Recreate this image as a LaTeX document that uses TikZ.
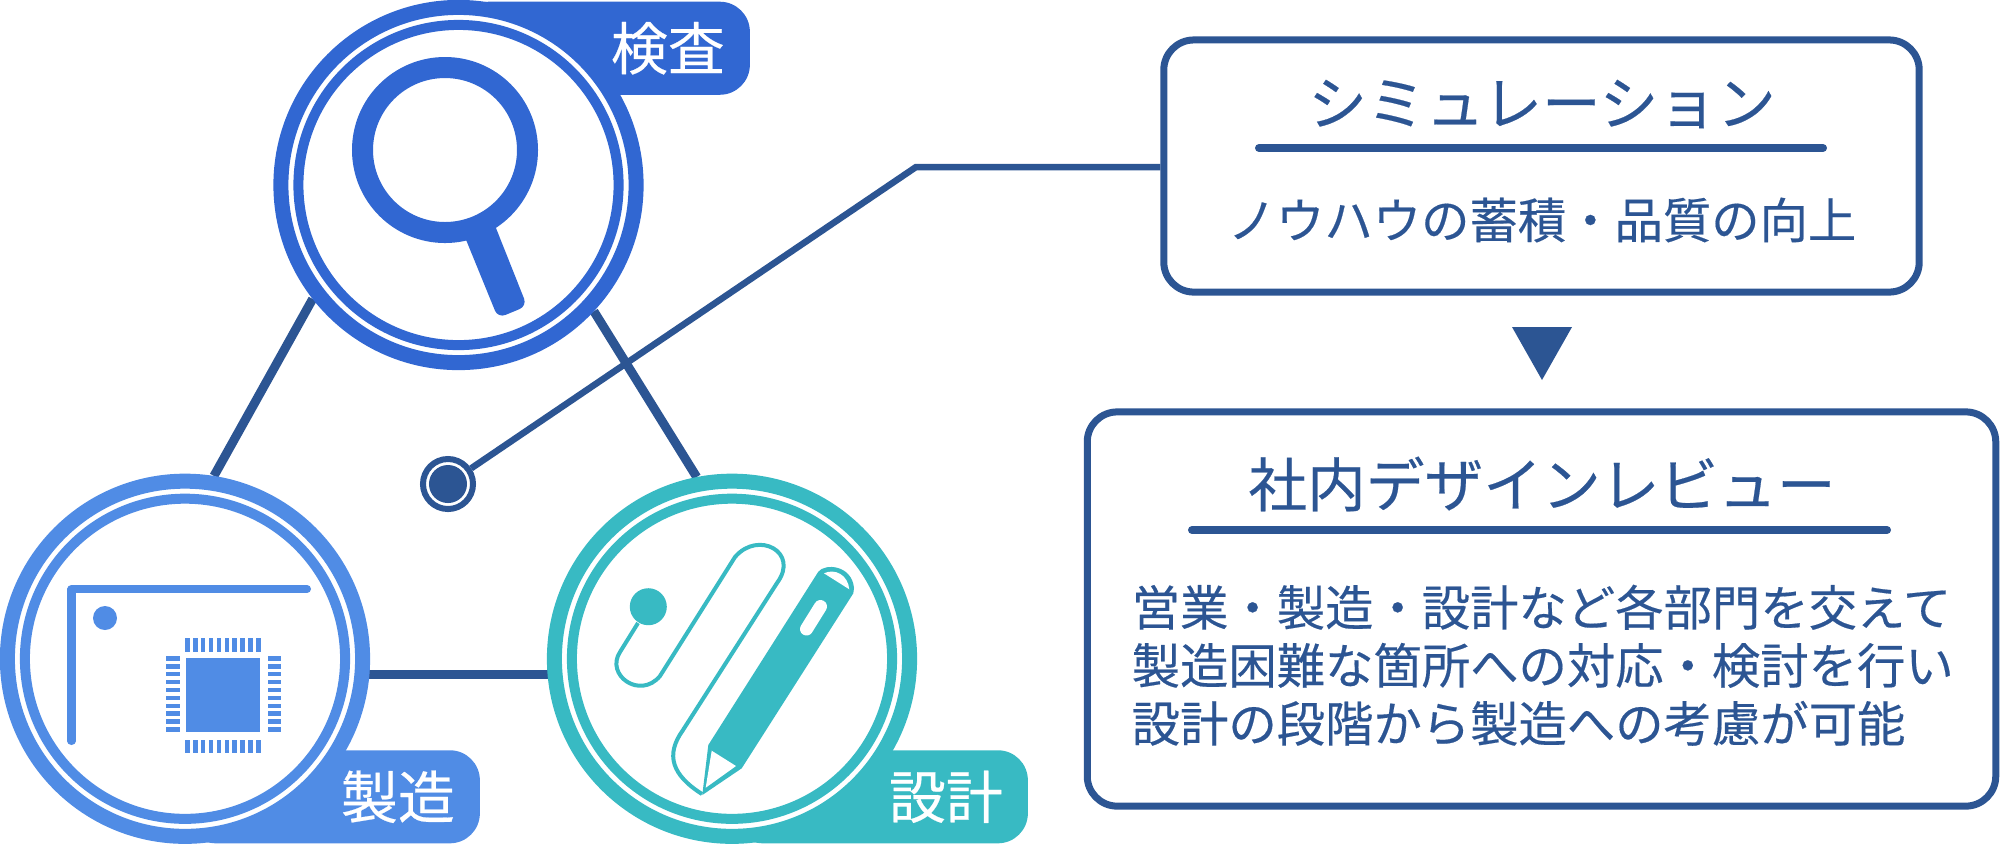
\documentclass[tikz,border=0pt]{standalone}
\usepackage{fontspec}
\setmainfont[FakeBold=0.35]{Noto Sans CJK JP}
\usetikzlibrary{backgrounds}
\definecolor{lineNavy}{RGB}{44, 85, 147}
\definecolor{inspectBlue}{RGB}{49, 103, 210}
\definecolor{fabBlue}{RGB}{80, 140, 229}
\definecolor{designTeal}{RGB}{56, 186, 195}
\tikzset{
  ringOuter/.style={circle, inner sep=0pt, minimum size=3.55cm, draw=#1, line width=0.15cm, fill=white},
  ringInner/.style={circle, inner sep=0pt, minimum size=3.2cm, draw=#1, line width=0.1cm, fill=white},
  tagBox/.style={rectangle, fill=#1, text=white, rounded corners=0.3cm, minimum height=0.93cm, inner xsep=0.25cm, inner ysep=0pt, font=\fontsize{16.2}{18}\selectfont, align=right},
  panelBox/.style={rectangle, draw=lineNavy, line width=0.07cm, rounded corners=0.3cm, inner sep=0pt},
  headText/.style={text=lineNavy, inner sep=0pt, font=\fontsize{16.7}{20}\selectfont},
  bodyText/.style={text=lineNavy, inner sep=0pt, font=\fontsize{13.75}{16.5}\selectfont},
  ruleLine/.style={lineNavy, line width=0.08cm, line cap=round},
  linkLine/.style={lineNavy, line width=0.09cm},
  leadLine/.style={lineNavy, line width=0.065cm, line join=miter}
}

\begin{document}
\begin{tikzpicture}[x=0.01cm, y=-0.01cm]
  \useasboundingbox (0,0) rectangle (2000,844);

  \node[tagBox=inspectBlue, anchor=north west, text width=2.41cm] (inspectTag) at (458,1) {検査};
  \node[tagBox=fabBlue, anchor=south west, text width=2.44cm] (fabTag) at (185,844) {製造};
  \node[tagBox=designTeal, anchor=south west, text width=2.45cm] (designTag) at (732,844) {設計};

  \node[ringOuter=inspectBlue] (inspect) at (458.5,185) {};
  \node[ringInner=inspectBlue] at (inspect) {};
  \node[ringOuter=fabBlue] (fab) at (185,658.75) {};
  \node[ringInner=fabBlue] at (fab) {};
  \node[ringOuter=designTeal] (design) at (732,658.75) {};
  \node[ringInner=designTeal] at (design) {};

  \node[circle, inner sep=0pt, minimum size=0.5cm, draw=lineNavy, line width=0.06cm, fill=white] (probe) at (448,484) {};
  \node[circle, inner sep=0pt, minimum size=0.38cm, fill=lineNavy] at (probe) {};

  \coordinate (elbow) at (916,167);
  \node[panelBox, minimum width=7.55cm, minimum height=2.52cm] (simBox) at (1541.5,166) {};
  \node[panelBox, minimum width=9.08cm, minimum height=3.94cm] (reviewBox) at (1541.5,609) {};

  \begin{scope}[on background layer]
    \draw[linkLine] (inspect.218.4) -- (fab.81);
    \draw[linkLine] (inspect.-43) -- (design.101.5);
    \draw[linkLine] (fab.-5.7) -- (design.185.7);
    \draw[leadLine] (probe) -- (elbow) -- (simBox.west |- elbow);
  \end{scope}

  % magnifier
  \draw[inspectBlue, line width=0.21cm] (445,150) circle (82.5);
  \fill[inspectBlue, rounded corners=0.08cm] (460,225) -- (490,213) -- (527,306) -- (498,318) -- cycle;

  % chip
  \draw[fabBlue, line width=0.08cm, line cap=round, line join=round] (307,589) -- (71.5,589) -- (71.5,741);
  \fill[fabBlue] (105,618) circle (12);
  \fill[fabBlue] (186,658) rectangle (260,732);
  \foreach \i in {0,...,9} {
    \fill[fabBlue] (184.9+7.93*\i,638) rectangle ++(4.7,13.5);
    \fill[fabBlue] (184.9+7.93*\i,739.5) rectangle ++(4.7,13.5);
    \fill[fabBlue] (166,655.9+7.93*\i) rectangle ++(13.5,4.7);
    \fill[fabBlue] (267.5,655.9+7.93*\i) rectangle ++(13.5,4.7);
  }

  % pen
  \fill[designTeal] (648.3,606.7) circle (18.5);
  \draw[designTeal, line width=0.04cm, line join=round] (638,623) -- (620,652)
    .. controls (605,675) and (640,700) .. (660,676) -- (735,557)
    .. controls (758,530) and (800,552) .. (777,583) -- (683,730)
    .. controls (665,755) and (672,775) .. (702,794);
  \fill[designTeal, line join=round] (702.3,795) -- (708.3,745) -- (818.3,571.7)
    .. controls (825,563) and (852,565) .. (854,588) -- (853.3,593.3) -- (741.7,768.3) -- cycle;
  \fill[white] (711.7,750.7) -- (736,766) -- (705.7,787.7) -- cycle;
  \fill[white] (824,573.3) .. controls (835,568) and (848,575) .. (849.3,589.3) -- cycle;
  \draw[white, line width=0.13cm, line cap=round] (820.5,606.5) -- (806.5,629);

  % panels
  \node[headText] (simTitle) at (1542,104) {シミュレーション};
  \draw[ruleLine] (1259,148) -- (1823,148);
  \node[bodyText] (simBody) at (1542,220) {ノウハウの蓄積・品質の向上};
  \fill[lineNavy] (1512,327) -- (1572,327) -- (1542,380) -- cycle;
  \node[headText] (reviewTitle) at (1542,484) {社内デザインレビュー};
  \draw[ruleLine] (1192,530) -- (1887,530);
  \node[bodyText, anchor=north west, align=left] (reviewBody) at (1131,584) {営業・製造・設計など各部門を交えて\\製造困難な箇所への対応・検討を行い\\設計の段階から製造への考慮が可能};
\end{tikzpicture}
\end{document}
